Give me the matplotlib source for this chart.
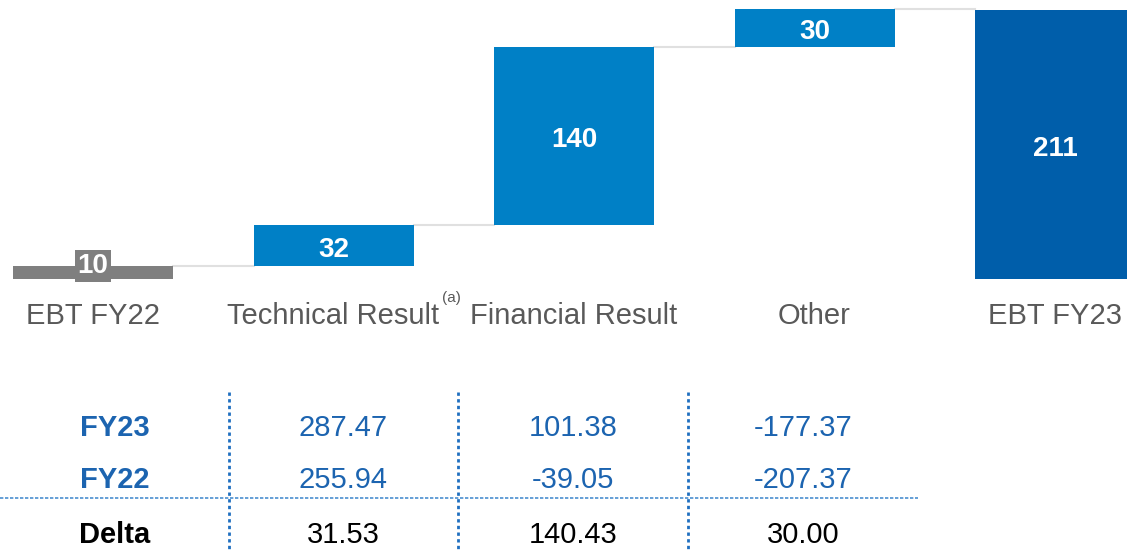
import numpy as np
import matplotlib.pyplot as plt

categories = ['EBT FY22', 'Technical Result', 'Financial Result', 'Other', 'EBT FY23']
ebt_fy22 = 10
deltas = [32, 140, 30]
ebt_fy23 = 211

row_labels = ['FY23', 'FY22', 'Delta']
fy23_vals = ['287.47', '101.38', '-177.37']
fy22_vals = ['255.94', '-39.05', '-207.37']
delta_vals = ['31.53', '140.43', '30.00']

plt.rcParams['font.family'] = ['Liberation Sans', 'DejaVu Sans']

GRAY = '#7f7f7f'
BLUE = '#0080c6'
DARK = '#005eaa'
TXT_BLUE = '#1c64b0'

W, H = 1127, 552
fig = plt.figure(figsize=(W / 100, H / 100), dpi=100)
ax = fig.add_axes([0, 0, 1, 1])
ax.axis('off')

# pixel layout -> data limits
x0, step = 93, 240.5
y0, scale = 279, 269 / 211
ax.set_xlim(-x0 / step, (W - x0) / step)
ax.set_ylim((y0 - H) / scale, y0 / scale)

def fx(px):
    return px / W

def fy(py):
    return 1 - py / H

width = 160 / step
x = np.arange(len(categories))

# waterfall
bottoms = [0]
heights = [ebt_fy22]
level = ebt_fy22
for d in deltas:
    bottoms.append(level)
    heights.append(d)
    level += d
bottoms.append(0)
heights.append(ebt_fy23)
colors = [GRAY, BLUE, BLUE, BLUE, DARK]

ax.bar(x, heights, width, bottom=bottoms, color=colors, zorder=2)

# connectors
tops = [b + h for b, h in zip(bottoms, heights)]
for i in range(len(categories) - 1):
    ax.plot([x[i] + width / 2, x[i + 1] - width / 2], [tops[i], tops[i]],
            color='#e0e0e0', lw=1.5, zorder=1)

# value labels
ax.annotate(str(ebt_fy22), (x[0], tops[0]), xytext=(0, 0), textcoords='offset points',
            ha='center', va='center', color='white', fontsize=20, fontweight='bold',
            bbox=dict(boxstyle='square,pad=0.1', fc=GRAY, ec='none'), zorder=3)
for i in range(1, len(categories)):
    ax.annotate(str(heights[i]), (x[i], bottoms[i] + heights[i] / 2), xytext=(0, -3),
                textcoords='offset points', ha='center', va='center',
                color='white', fontsize=20, fontweight='bold', zorder=3)

# category labels
for i, c in enumerate(categories):
    ax.text(x[i], (y0 - 316) / scale, c, ha='center', va='center',
            color='#595959', fontsize=21)
ax.text(fx(451), fy(298), '(a)', transform=fig.transFigure, ha='center', va='center',
        color='#595959', fontsize=11)

# table
col_x = [343, 573, 803]
row_y = [428, 480, 535]
rows = [fy23_vals, fy22_vals, delta_vals]
row_colors = [TXT_BLUE, TXT_BLUE, 'black']
for r, (lab, vals, col) in enumerate(zip(row_labels, rows, row_colors)):
    fig.text(fx(115), fy(row_y[r]), lab, ha='center', va='center', color=col,
             fontsize=21, fontweight='bold')
    for cx, v in zip(col_x, vals):
        fig.text(fx(cx), fy(row_y[r]), v, ha='center', va='center', color=col, fontsize=21)

for vx in [229, 458, 688]:
    fig.add_artist(plt.Line2D([fx(vx), fx(vx)], [fy(392), fy(552)], color='#1f6fc0',
                              lw=2, ls=(0, (1.2, 1.2))))
fig.add_artist(plt.Line2D([fx(0), fx(918)], [fy(498), fy(498)], color='#4a8fd0',
                          lw=1.2, ls=(0, (2, 1))))

fig.savefig('out.png', dpi=100)
